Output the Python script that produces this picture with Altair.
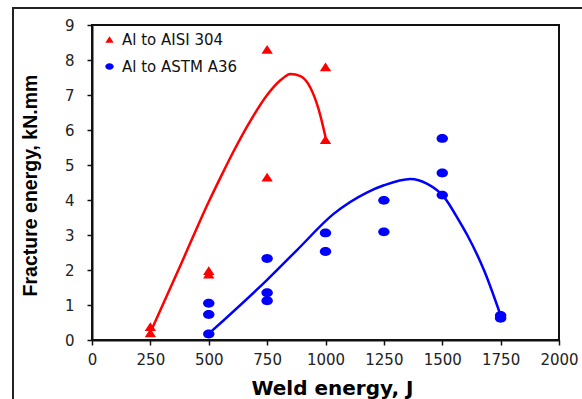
import altair as alt
import pandas as pd

series_names = ["Al to AISI 304", "Al to ASTM A36"]

red_x = [250, 250, 500, 500, 750, 750, 1000, 1000]
red_y = [0.38, 0.20, 1.98, 1.88, 8.30, 4.65, 7.80, 5.72]
blue_x = [500, 500, 500, 750, 750, 750, 1000, 1000, 1250, 1250, 1500, 1500, 1500, 1750, 1750]
blue_y = [1.05, 0.73, 0.17, 2.33, 1.35, 1.12, 3.06, 2.53, 3.99, 3.09, 5.76, 4.77, 4.14, 0.70, 0.62]

red_curve_x = [257, 380, 500, 550, 607, 679, 750, 807, 850, 893, 936, 971, 1000]
red_curve_y = [0.32, 2.15, 3.95, 4.64, 5.40, 6.27, 7.00, 7.42, 7.60, 7.54, 7.20, 6.58, 5.80]
blue_curve_x = [500, 750, 878, 1036, 1179, 1250, 1364, 1436, 1507, 1571, 1607, 1679, 1750]
blue_curve_y = [0.18, 1.72, 2.57, 3.61, 4.22, 4.42, 4.60, 4.46, 4.09, 3.42, 3.00, 1.99, 0.70]

x_ticks = [0, 250, 500, 750, 1000, 1250, 1500, 1750, 2000]
y_ticks = [0, 1, 2, 3, 4, 5, 6, 7, 8, 9]

pts = pd.DataFrame({
    "J": red_x + blue_x,
    "v": red_y + blue_y,
    "series": [series_names[0]] * len(red_x) + [series_names[1]] * len(blue_x),
})
red_curve = pd.DataFrame({"J": red_curve_x, "v": red_curve_y})
blue_curve = pd.DataFrame({"J": blue_curve_x, "v": blue_curve_y})

tri_path = "M -1 0.75 L 1 0.75 L 0 -0.8 Z"
ell_path = "M -1 0 A 1 0.78 0 1 1 1 0 A 1 0.78 0 1 1 -1 0 Z"

xenc = alt.X("J:Q", scale=alt.Scale(domain=[0, 2000], nice=False),
             axis=alt.Axis(values=x_ticks, title="Weld energy, J", format="d",
                           titleX=240, titleY=48, titleBaseline="middle",
                           labelPadding=7, labelFlush=False, labelOverlap=False))
yenc = alt.Y("v:Q", scale=alt.Scale(domain=[0, 9], nice=False),
             axis=alt.Axis(values=y_ticks, title="Fracture energy, kN.mm",
                           titleX=-62, titleY=160, titleBaseline="middle",
                           titleFont="Liberation Sans", titleFontSize=19.5,
                           labelPadding=13, labelFlush=False))

legend_cfg = dict(title=None, orient="none", legendX=10, legendY=7,
                  padding=0, symbolSize=70, labelFont="DejaVu Sans",
                  labelFontSize=15, labelColor="#111", labelOffset=5,
                  rowPadding=11, symbolStrokeWidth=0)

frame = alt.Chart(alt.Data(values=[{"a": 1}])).mark_rect(
    fillOpacity=0, stroke="#222", strokeWidth=2, clip=False
).encode(x=alt.value(-79), x2=alt.value(520), y=alt.value(-17), y2=alt.value(420))

red_line = alt.Chart(red_curve).mark_line(
    color="#ff0000", strokeWidth=2.5, interpolate="monotone"
).encode(x=xenc, y=yenc)
blue_line = alt.Chart(blue_curve).mark_line(
    color="#0000ff", strokeWidth=2.5, interpolate="monotone"
).encode(x=xenc, y=yenc)

points = alt.Chart(pts).mark_point(filled=True, opacity=1, size=130).encode(
    x=xenc, y=yenc,
    color=alt.Color("series:N", scale=alt.Scale(domain=series_names, range=["#ff0000", "#0000ff"]),
                    legend=alt.Legend(**legend_cfg)),
    shape=alt.Shape("series:N", scale=alt.Scale(domain=series_names, range=[tri_path, ell_path]),
                    legend=alt.Legend(**legend_cfg)),
)

chart = alt.layer(frame, red_line, blue_line, points).properties(
    width=467, height=315,
    autosize=alt.AutoSizeParams(type="none"),
    padding={"left": 92, "top": 25, "right": 23, "bottom": 59},
    background="white",
).configure_view(
    stroke="#111", strokeWidth=2
).configure_axis(
    grid=False, domainColor="#111", domainWidth=2, tickColor="#111", tickWidth=1.5,
    tickSize=5, labelFont="DejaVu Sans", labelFontSize=15, labelColor="#222",
    titleFont="DejaVu Sans", titleFontWeight="bold", titleFontSize=20, titleColor="#000",
)

chart.save("out.html", embed_options={"renderer": "svg", "actions": False})
